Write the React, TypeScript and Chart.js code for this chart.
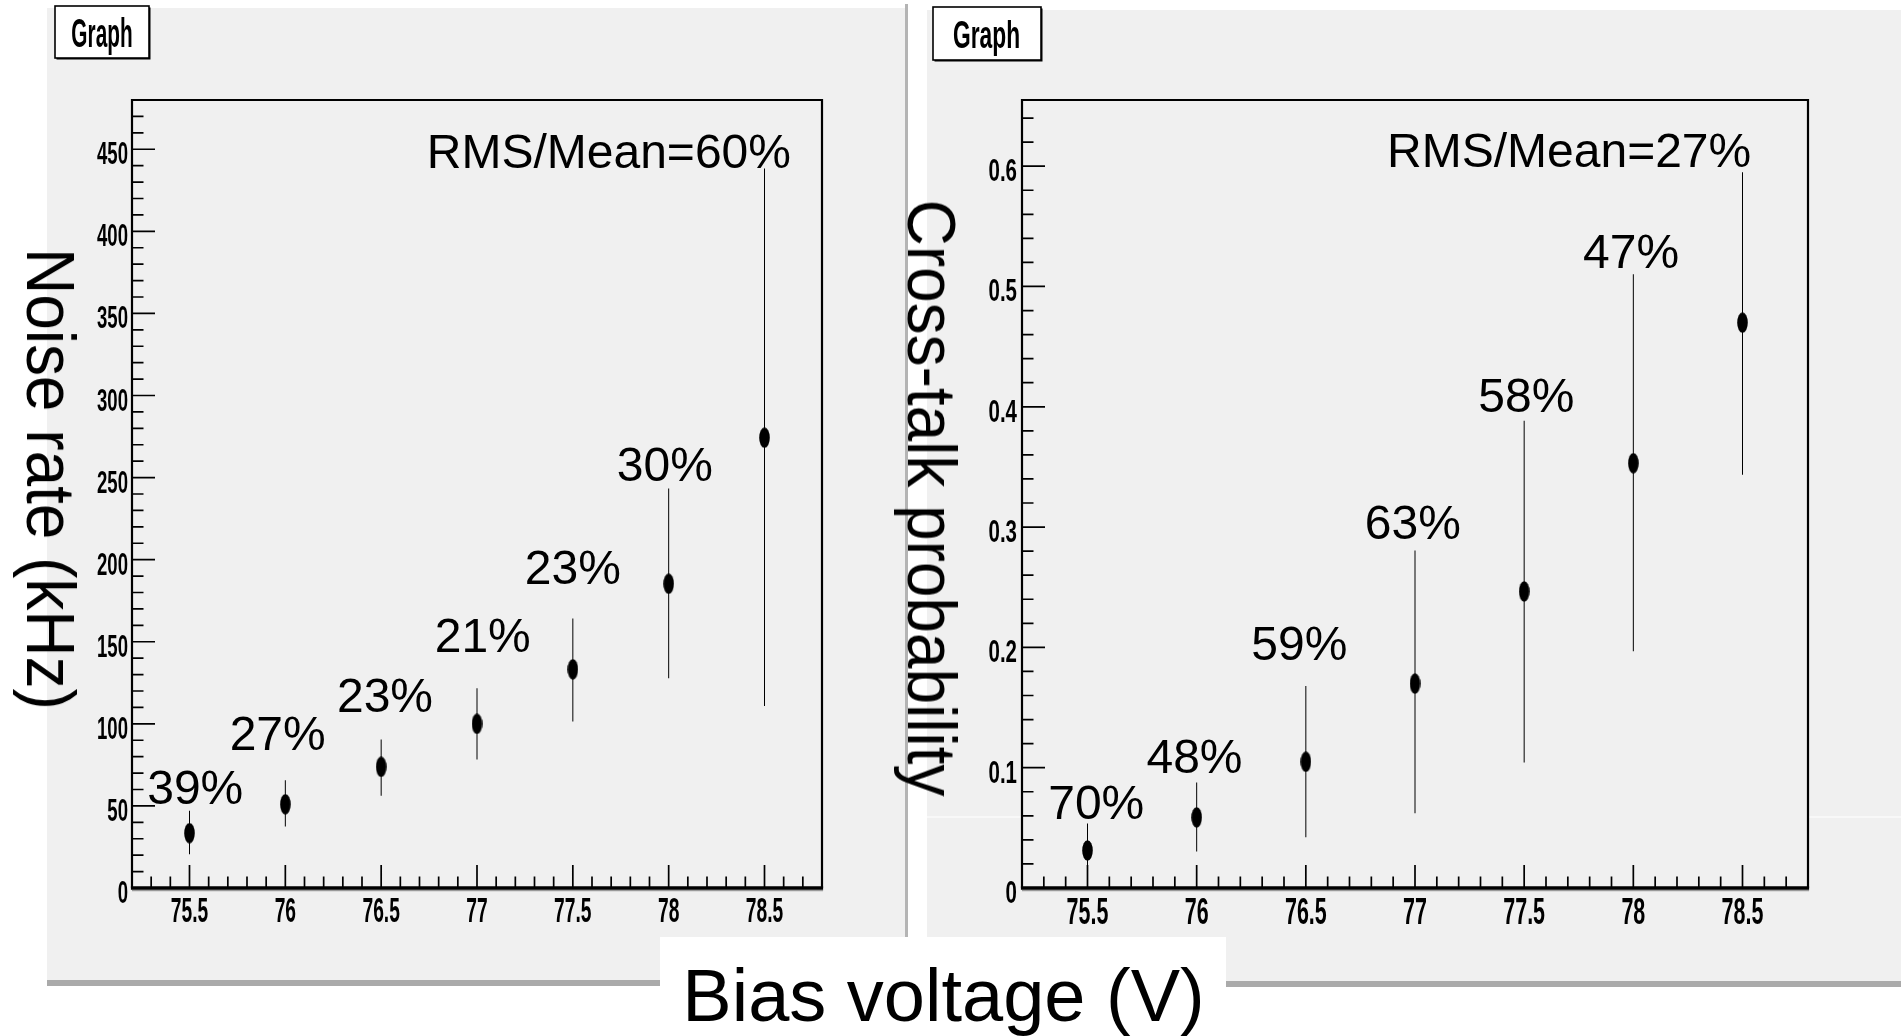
import React, { useEffect, useRef } from 'react';
import { Chart, registerables } from 'chart.js';

Chart.register(...registerables);

// ---------------- data ----------------
const BIAS_V = [75.5, 76, 76.5, 77, 77.5, 78, 78.5];

const NOISE_KHZ = [33.4, 51.0, 73.8, 100.0, 133.2, 185.3, 274.3];
const NOISE_ERR_LOW = [20.5, 37.5, 56.2, 78.2, 101.4, 127.8, 110.8];
const NOISE_ERR_HIGH = [47.1, 65.7, 90.4, 121.6, 164.1, 243.3, 438.3];
const NOISE_SPREAD_LABELS = ['39%', '27%', '23%', '21%', '23%', '30%'];
const NOISE_SPREAD_X = [75.53, 75.96, 76.52, 77.03, 77.5, 77.98];
const NOISE_SPREAD_Y = [51, 84, 107.5, 144, 185, 248];
const NOISE_RMS_TEXT = 'RMS/Mean=60%';
const NOISE_RMS_POS = [78.638, 438.6];

const XTALK_PROB = [0.0312, 0.0587, 0.1049, 0.1699, 0.2465, 0.3531, 0.4699];
const XTALK_ERR_LOW = [0.0091, 0.0303, 0.0422, 0.0621, 0.1043, 0.1968, 0.3434];
const XTALK_ERR_HIGH = [0.0536, 0.0876, 0.1679, 0.2805, 0.3884, 0.5102, 0.595];
const XTALK_SPREAD_LABELS = ['70%', '48%', '59%', '63%', '58%', '47%'];
const XTALK_SPREAD_X = [75.54, 75.99, 76.47, 76.99, 77.51, 77.99];
const XTALK_SPREAD_Y = [0.057, 0.0956, 0.1898, 0.2904, 0.396, 0.5157];
const XTALK_RMS_TEXT = 'RMS/Mean=27%';
const XTALK_RMS_POS = [78.54, 0.5993];

const X_TICKS = [75.5, 76, 76.5, 77, 77.5, 78, 78.5];
const X_MINOR_STEP = 0.1;
const NOISE_Y_TICKS = [0, 50, 100, 150, 200, 250, 300, 350, 400, 450];
const NOISE_Y_MINOR_STEP = 10;
const XTALK_Y_TICKS = [0, 0.1, 0.2, 0.3, 0.4, 0.5, 0.6];
const XTALK_Y_MINOR_STEP = 0.02;

const X_RANGE = [75.2, 78.8];
const NOISE_Y_RANGE = [0, 480];
const XTALK_Y_RANGE = [0, 0.655];

const TITLE_NOISE = 'Noise rate (kHz)';
const TITLE_XTALK = 'Cross-talk probability';
const TITLE_BIAS = 'Bias voltage (V)';
const PAD_TITLE = 'Graph';

// ---------------- styling ----------------
const PAD_GRAY = '#f0f0f0';
const SHADOW = '#aaaaaa';
const FONT = '"Liberation Sans", Arial, Helvetica, sans-serif';

interface PanelCfg {
  left: number; top: number; width: number; height: number;
  pad: number[]; border?: number[]; shadow: number[]; whiteLineY?: number;
  padding: { left: number; right: number; top: number; bottom: number };
  yRange: number[];
  values: number[]; low: number[]; high: number[];
  spread: string[]; spreadX: number[]; spreadY: number[];
  rms: string; rmsPos: number[];
  yTicks: number[]; yMinor: number;
  box: number[]; boxText: number[];
  yLab: number[]; xLab: number[];
  marker: number[];
}

function makeEllipse(w: number, h: number) {
  const c = document.createElement('canvas');
  c.width = w; c.height = h;
  const g = c.getContext('2d')!;
  g.fillStyle = '#000';
  g.beginPath();
  g.ellipse(w / 2, h / 2, w / 2 - 0.2, h / 2 - 0.2, 0, 0, Math.PI * 2);
  g.fill();
  return c;
}

function condText(ctx: CanvasRenderingContext2D, text: string, x: number, y: number, size: number, k: number, align: CanvasTextAlign) {
  ctx.save();
  ctx.font = `bold ${size}px ${FONT}`;
  ctx.textBaseline = 'alphabetic';
  ctx.textAlign = align;
  ctx.fillStyle = '#000';
  ctx.translate(x, y);
  ctx.scale(k, 1);
  ctx.fillText(text, 0, 0);
  ctx.restore();
}

function minorValues(min: number, max: number, step: number, majors: number[]) {
  const out: number[] = [];
  const start = Math.ceil(min / step - 1e-6);
  for (let n = start; n * step < max - 1e-9; n++) {
    const v = Math.round(n * step * 10000) / 10000;
    if (v <= min + 1e-9) continue;
    if (majors.some((m) => Math.abs(m - v) < 1e-6)) continue;
    out.push(v);
  }
  return out;
}

function decorPlugin(cfg: PanelCfg) {
  return {
    id: 'rootDecor',
    beforeDraw(chart: any) {
      const ctx: CanvasRenderingContext2D = chart.ctx;
      const ca = chart.chartArea;
      ctx.save();
      ctx.fillStyle = '#ffffff';
      ctx.fillRect(0, 0, chart.width, chart.height);
      ctx.fillStyle = PAD_GRAY;
      ctx.fillRect(cfg.pad[0], cfg.pad[1], cfg.pad[2], cfg.pad[3]);
      if (cfg.whiteLineY !== undefined) {
        ctx.fillStyle = '#ffffff';
        ctx.fillRect(cfg.pad[0], cfg.whiteLineY, cfg.pad[2], 1);
        ctx.fillStyle = PAD_GRAY;
        ctx.fillRect(ca.left, ca.top, ca.right - ca.left, ca.bottom - ca.top);
      }
      ctx.fillStyle = SHADOW;
      ctx.fillRect(cfg.shadow[0], cfg.shadow[1], cfg.shadow[2], cfg.shadow[3]);
      if (cfg.border) {
        ctx.fillStyle = '#b4b4b4';
        ctx.fillRect(cfg.border[0], cfg.border[1], cfg.border[2], cfg.border[3]);
      }
      const [bx, by, bw, bh] = cfg.box;
      ctx.fillStyle = '#000';
      ctx.fillRect(bx + 1.5, by + 1.5, bw, bh);
      ctx.fillStyle = '#ffffff';
      ctx.fillRect(bx, by, bw, bh);
      ctx.strokeStyle = '#000';
      ctx.lineWidth = 1.6;
      ctx.strokeRect(bx, by, bw, bh);
      condText(ctx, PAD_TITLE, cfg.boxText[0], cfg.boxText[1], cfg.boxText[2], cfg.boxText[3], 'center');
      ctx.restore();
    },
    afterDatasetsDraw(chart: any) {
      const ctx: CanvasRenderingContext2D = chart.ctx;
      const xs = chart.scales.x;
      const ys = chart.scales.y;
      const ca = chart.chartArea;
      ctx.save();
      ctx.strokeStyle = '#000';
      // frame
      ctx.lineWidth = 2.2;
      ctx.beginPath();
      ctx.moveTo(ca.left, ca.bottom);
      ctx.lineTo(ca.left, ca.top);
      ctx.lineTo(ca.right, ca.top);
      ctx.lineTo(ca.right, ca.bottom);
      ctx.stroke();
      // bottom axis with a faint grey shadow beneath
      ctx.strokeStyle = '#9a9a9a';
      ctx.lineWidth = 1.5;
      ctx.beginPath();
      ctx.moveTo(ca.left, ca.bottom + 2.4);
      ctx.lineTo(ca.right + 1.1, ca.bottom + 2.4);
      ctx.stroke();
      ctx.strokeStyle = '#000';
      ctx.lineWidth = 3.4;
      ctx.beginPath();
      ctx.moveTo(ca.left - 1.1, ca.bottom);
      ctx.lineTo(ca.right + 1.1, ca.bottom);
      ctx.stroke();

      // ticks
      const MAJ = 23, MIN = 11.5;
      ctx.lineWidth = 1.7;
      ctx.beginPath();
      cfg.yTicks.forEach((v) => {
        if (v <= cfg.yRange[0]) return;
        const y = ys.getPixelForValue(v);
        ctx.moveTo(ca.left, y); ctx.lineTo(ca.left + MAJ, y);
      });
      minorValues(cfg.yRange[0], cfg.yRange[1], cfg.yMinor, cfg.yTicks).forEach((v) => {
        const y = ys.getPixelForValue(v);
        ctx.moveTo(ca.left, y); ctx.lineTo(ca.left + MIN, y);
      });
      X_TICKS.forEach((v) => {
        const x = xs.getPixelForValue(v);
        ctx.moveTo(x, ca.bottom); ctx.lineTo(x, ca.bottom - MAJ);
      });
      minorValues(X_RANGE[0], X_RANGE[1], X_MINOR_STEP, X_TICKS).forEach((v) => {
        const x = xs.getPixelForValue(v);
        ctx.moveTo(x, ca.bottom); ctx.lineTo(x, ca.bottom - MIN);
      });
      ctx.stroke();

      // tick labels
      cfg.yTicks.forEach((v) => {
        condText(ctx, String(v), ca.left + cfg.yLab[2], ys.getPixelForValue(v) + cfg.yLab[3], cfg.yLab[0], cfg.yLab[1], 'right');
      });
      X_TICKS.forEach((v) => {
        condText(ctx, String(v), xs.getPixelForValue(v), ca.bottom + cfg.xLab[2], cfg.xLab[0], cfg.xLab[1], 'center');
      });

      // annotations
      ctx.fillStyle = '#000';
      ctx.font = `48px ${FONT}`;
      ctx.textBaseline = 'alphabetic';
      ctx.textAlign = 'center';
      cfg.spread.forEach((t, i) => {
        ctx.fillText(t, xs.getPixelForValue(cfg.spreadX[i]), ys.getPixelForValue(cfg.spreadY[i]));
      });
      ctx.textAlign = 'right';
      ctx.fillText(cfg.rms, xs.getPixelForValue(cfg.rmsPos[0]), ys.getPixelForValue(cfg.rmsPos[1]));
      ctx.restore();
    },
  };
}

const NOISE_CFG: PanelCfg = {
  left: 40, top: 0, width: 870, height: 990,
  pad: [7, 8, 858, 972], border: [865, 4, 3, 982], shadow: [7, 980, 861, 6],
  padding: { left: 92, right: 88, top: 100, bottom: 102 },
  yRange: NOISE_Y_RANGE,
  values: NOISE_KHZ, low: NOISE_ERR_LOW, high: NOISE_ERR_HIGH,
  spread: NOISE_SPREAD_LABELS, spreadX: NOISE_SPREAD_X, spreadY: NOISE_SPREAD_Y,
  rms: NOISE_RMS_TEXT, rmsPos: NOISE_RMS_POS,
  yTicks: NOISE_Y_TICKS, yMinor: NOISE_Y_MINOR_STEP,
  box: [15, 6, 94, 52], boxText: [62, 47, 40, 0.52],
  yLab: [32, 0.58, -4, 15], xLab: [35, 0.55, 33.5],
  marker: [11, 21],
};

const XTALK_CFG: PanelCfg = {
  left: 920, top: 0, width: 981, height: 990,
  pad: [7, 10, 974, 971], shadow: [7, 981, 974, 6], whiteLineY: 816.5,
  padding: { left: 102, right: 93, top: 100, bottom: 102 },
  yRange: XTALK_Y_RANGE,
  values: XTALK_PROB, low: XTALK_ERR_LOW, high: XTALK_ERR_HIGH,
  spread: XTALK_SPREAD_LABELS, spreadX: XTALK_SPREAD_X, spreadY: XTALK_SPREAD_Y,
  rms: XTALK_RMS_TEXT, rmsPos: XTALK_RMS_POS,
  yTicks: XTALK_Y_TICKS, yMinor: XTALK_Y_MINOR_STEP,
  box: [13, 7, 108, 53], boxText: [66.5, 48, 38, 0.6],
  yLab: [31, 0.66, -5, 15], xLab: [37, 0.58, 36],
  marker: [11, 21],
};

function Panel({ cfg }: { cfg: PanelCfg }) {
  const ref = useRef<HTMLCanvasElement>(null);
  useEffect(() => {
    const canvas = ref.current!;
    const marker = makeEllipse(cfg.marker[0], cfg.marker[1]);
    const chart = new Chart(canvas, {
      type: 'scatter',
      data: {
        datasets: [
          {
            type: 'scatter',
            data: BIAS_V.map((x, i) => ({ x, y: cfg.values[i] })),
            pointStyle: marker as any,
            pointRadius: 5,
            showLine: false,
            order: 0,
          } as any,
          {
            type: 'bar',
            data: BIAS_V.map((x, i) => ({ x, y: [cfg.low[i], cfg.high[i]] })),
            backgroundColor: '#000',
            borderWidth: 0,
            barThickness: 1,
            inflateAmount: 0,
            order: 1,
          } as any,
        ],
      },
      options: {
        animation: false,
        responsive: false,
        devicePixelRatio: 1,
        events: [],
        layout: { padding: cfg.padding },
        plugins: { legend: { display: false }, tooltip: { enabled: false } },
        scales: {
          x: { type: 'linear', min: X_RANGE[0], max: X_RANGE[1], display: false, offset: false },
          y: { type: 'linear', min: cfg.yRange[0], max: cfg.yRange[1], display: false },
        },
      } as any,
      plugins: [decorPlugin(cfg) as any],
    });
    return () => chart.destroy();
  }, [cfg]);
  return (
    <canvas
      ref={ref}
      width={cfg.width}
      height={cfg.height}
      style={{ position: 'absolute', left: cfg.left, top: cfg.top, width: cfg.width, height: cfg.height }}
    />
  );
}

const vTitle = (cx: number, cy: number): React.CSSProperties => ({
  position: 'absolute',
  left: cx,
  top: cy,
  transform: 'translate(-50%, -50%) rotate(90deg) scaleX(0.94)',
  fontFamily: FONT,
  fontSize: 68,
  lineHeight: '68px',
  whiteSpace: 'nowrap',
  color: '#000',
});

export default function App() {
  return (
    <div style={{ position: 'fixed', left: 0, top: 0, width: 1901, height: 1036, background: '#fff', overflow: 'hidden' }}>
      <Panel cfg={NOISE_CFG} />
      <Panel cfg={XTALK_CFG} />
      <div style={{ position: 'absolute', left: 660, top: 937, width: 566, height: 99, background: '#fff' }} />
      <div style={vTitle(51, 479)}>{TITLE_NOISE}</div>
      <div style={vTitle(932, 498)}>{TITLE_XTALK}</div>
      <div
        style={{
          position: 'absolute',
          left: 943.5,
          top: 1022 - 62.6,
          transform: 'translateX(-50%)',
          fontFamily: FONT,
          fontSize: 74,
          lineHeight: '74px',
          whiteSpace: 'nowrap',
          color: '#000',
        }}
      >
        {TITLE_BIAS}
      </div>
    </div>
  );
}
